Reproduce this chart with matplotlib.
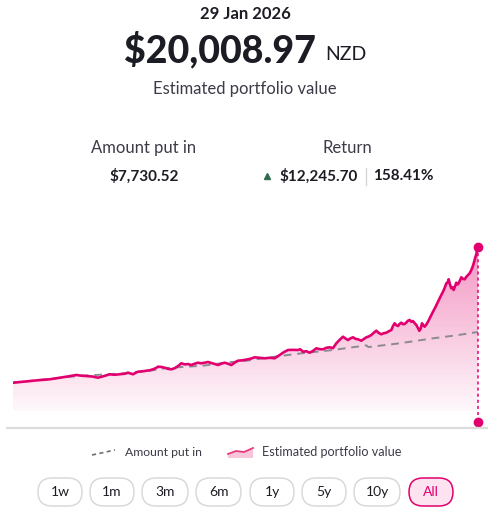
import matplotlib.pyplot as plt
import numpy as np
from matplotlib.patches import FancyBboxPatch, Polygon
from matplotlib.lines import Line2D

# Dados (dia desde o início, valor em NZD)
days = [0, 25, 50, 80, 110, 135, 160, 175, 190, 205,
        220, 238, 255, 272, 290, 305, 320, 335, 345, 352,
        360, 368, 375, 388, 400, 410, 420, 428, 435, 445,
        455, 465, 475, 485, 495, 505, 515, 525, 535, 545,
        555, 565, 575, 585, 595, 605, 615, 625, 635, 645,
        655, 665, 675, 690, 705, 715, 725, 740, 755, 770,
        785, 800, 812, 825, 840, 855, 862, 870, 880, 890,
        900, 910, 920, 930, 940, 950, 960, 970, 980, 990,
        997, 1005, 1012, 1020, 1027, 1035, 1045, 1052, 1060, 1068,
        1075, 1082, 1090, 1097, 1105, 1112, 1120, 1128, 1135, 1140,
        1145, 1150, 1155, 1160, 1165, 1170, 1175, 1180, 1185, 1190,
        1195, 1200, 1205, 1210, 1215, 1219, 1223, 1227, 1231, 1235,
        1240, 1245, 1252, 1260, 1267, 1275, 1282, 1290, 1295, 1300,
        1304, 1307, 1311, 1315, 1319, 1322, 1326, 1330, 1334, 1337,
        1341, 1345, 1350, 1355, 1360, 1365, 1370, 1375, 1380, 1385,
        1390, 1395]
portfolio = [404, 520, 650, 780, 895, 1080, 1271, 1400, 1517, 1420,
             1372, 1300, 1127, 1350, 1618, 1550, 1618, 1700, 1849, 1750,
             1618, 1850, 1993, 2050, 2138, 2200, 2340, 2500, 2716, 2680,
             2571, 2400, 2340, 2500, 2800, 3207, 3050, 3100, 2962, 3150,
             3294, 3200, 3300, 3395, 3250, 3100, 2962, 3150, 3294, 3150,
             2962, 3300, 3583, 3650, 3785, 3900, 4073, 4000, 3929, 4000,
             3929, 4400, 4800, 5128, 5150, 5128, 5229, 4882, 4950, 4738,
             5000, 5374, 5250, 5229, 5450, 5518, 5400, 6096, 6600, 7049,
             6800, 6572, 6800, 6962, 6750, 6673, 6471, 6700, 6962, 7100,
             7295, 7600, 7916, 7600, 7396, 7550, 7627, 7850, 8017, 8600,
             8985, 8700, 8595, 8900, 9072, 8850, 8900, 9100, 9361, 9461,
             9200, 9300, 9000, 8739, 8300, 7900, 8200, 8985, 8700, 8494,
             8800, 9216, 9900, 10661, 11300, 12105, 12800, 13550, 14100, 14763,
             14900, 15341, 14600, 14041, 14200, 13795, 14300, 14850, 14600, 14763,
             15200, 15630, 15400, 15341, 15700, 15962, 16200, 16684, 17300, 18128,
             19000, 20009]

put_days = [0, 130, 200, 260, 330, 400, 460, 570, 645, 700, 760, 824, 866, 960,
            1060, 1066, 1160, 1260, 1330, 1395]
put_in = [404, 1050, 1400, 1550, 1750, 2050, 2530, 2860, 3350, 3580, 4000, 4400,
          4651, 5128, 5800, 5550, 6096, 6818, 7250, 7730]

ranges = ['1w', '1m', '3m', '6m', '1y', '5y', '10y', 'All']

pink = '#e2006f'
dark = '#1c1c24'
grey_txt = '#3c3c48'
font = 'Lato'

W, H = 490, 518
fig = plt.figure(figsize=(W/100, H/100), dpi=100)

# Gráfico principal
ax = fig.add_axes([13/W, 1-411/H, (478-13)/W, (411-240)/H])
ax.set_xlim(0, 1395)
ax.set_ylim(-3683, 21017)
ax.axis('off')

poly = ax.fill_between(days, portfolio, -3683, color='none')
grad = np.zeros((256, 1, 4))
grad[:, 0, :3] = np.array([226, 0, 111]) / 255
grad[:, 0, 3] = np.linspace(0.42, 0.03, 256)
im = ax.imshow(grad, extent=[0, 1395, -3683, 20009], aspect='auto', origin='upper',
               zorder=1)
im.set_clip_path(poly.get_paths()[0], transform=ax.transData)

ax.plot(put_days, put_in, color='#8a8a90', lw=1.4, dashes=(4, 3), zorder=2)
ax.plot(days, portfolio, color=pink, lw=1.9, zorder=3)
ax.plot([days[-1], days[-1]], [portfolio[-1], -5272], color=pink, lw=1.1,
        dashes=(2, 2), zorder=3, clip_on=False)
ax.plot([days[-1], days[-1]], [portfolio[-1], -5272], 'o', color=pink, ms=6,
        zorder=4, clip_on=False)

# Camada de textos, coordenadas em pixels (y medido de cima)
ov = fig.add_axes([0, 0, 1, 1], zorder=5)
ov.set_xlim(0, W)
ov.set_ylim(0, H)
ov.axis('off')


def Y(y):
    return H - y


ov.add_line(Line2D([7, 487], [Y(428), Y(428)], color='#dcdcdc', lw=1.6))

ov.text(245, Y(14), '29 Jan 2026', ha='center', va='center', fontsize=12,
        fontweight='bold', color=dark, family=font)
ov.text(316, Y(50), '$20,008.97', ha='right', va='center', fontsize=27,
        fontweight='black', color=dark, family=font)
ov.text(325, Y(55), 'NZD', ha='left', va='center', fontsize=14, color=dark,
        family=font)
ov.text(245, Y(89), 'Estimated portfolio value', ha='center', va='center',
        fontsize=12, color=grey_txt, family=font)

ov.text(144, Y(148), 'Amount put in', ha='center', va='center', fontsize=12,
        color=grey_txt, family=font)
ov.text(347, Y(148), 'Return', ha='center', va='center', fontsize=12,
        color=grey_txt, family=font)
ov.text(144, Y(176), '$7,730.52', ha='center', va='center', fontsize=11,
        fontweight='bold', color=dark, family=font)
ov.plot(267, Y(176), marker='^', ms=5, color='#2f6b4f')
ov.text(279, Y(176), '$12,245.70', ha='left', va='center', fontsize=11,
        fontweight='bold', color=dark, family=font)
ov.add_line(Line2D([366, 366], [Y(168), Y(185)], color='#d8d8d8', lw=1))
ov.text(373, Y(176), '158.41%', ha='left', va='center', fontsize=11,
        fontweight='bold', color=dark, family=font)

# Legenda
ov.add_line(Line2D([92, 115], [Y(455), Y(450)], color='#6e6e74', lw=1.2,
                   dashes=(2.5, 2)))
ov.text(125, Y(452), 'Amount put in', ha='left', va='center', fontsize=8.8,
        color=grey_txt, family=font)
ov.add_patch(Polygon([(228, Y(454)), (236, Y(451)), (244, Y(452)), (253, Y(448)),
                      (253, Y(458)), (228, Y(458))], closed=True, color='#f7c6da',
                     lw=0))
ov.add_line(Line2D([228, 236, 244, 253], [Y(454), Y(451), Y(452), Y(448)],
                   color='#e83a7c', lw=1.3))
ov.text(262, Y(452), 'Estimated portfolio value', ha='left', va='center',
        fontsize=9.1, color=grey_txt, family=font)

# Botões de período
lefts = [38, 90, 142, 196, 250, 302, 354, 409]
rights = [82, 134, 188, 241, 294, 346, 400, 453]
for lab, l, r in zip(ranges, lefts, rights):
    sel = lab == 'All'
    ov.add_patch(FancyBboxPatch((l, Y(506)), r - l, 28,
                                boxstyle='round,pad=0,rounding_size=14',
                                fc='#fde3ef' if sel else 'white',
                                ec=pink if sel else '#d9d9d9', lw=1.1))
    ov.text((l + r) / 2, Y(492), lab, ha='center', va='center', fontsize=10,
            color=pink if sel else dark, family=font)

fig.savefig('out.png', dpi=100)
